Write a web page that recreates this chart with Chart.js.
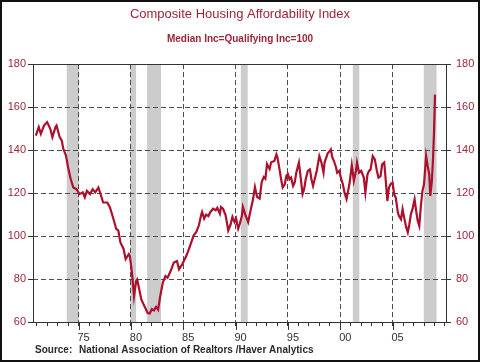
<!DOCTYPE html>
<html>
<head>
<meta charset="utf-8">
<script src="https://cdn.jsdelivr.net/npm/chart.js@4.4.1/dist/chart.umd.min.js"></script>
<style>
  html, body { margin: 0; padding: 0; background: #fff; }
  canvas { display: block; }
</style>
</head>
<body>
<canvas id="chart" width="480" height="362" style="width:480px;height:362px"></canvas>
<script>
// time positions (fractional years) and index values
const years = [
  1970.92, 1971.2, 1971.4, 1971.7, 1972.0, 1972.3, 1972.5, 1972.8, 1972.9, 1973.2,
  1973.4, 1973.55, 1973.8, 1974.0, 1974.25, 1974.5, 1974.8, 1975.1, 1975.4, 1975.6,
  1975.8, 1976.1, 1976.35, 1976.6, 1976.9, 1977.1, 1977.35, 1977.75, 1978.0, 1978.3,
  1978.6, 1978.8, 1979.0, 1979.3, 1979.5, 1979.8, 1979.9, 1980.1, 1980.3, 1980.5,
  1980.6, 1980.8, 1981.0, 1981.3, 1981.6, 1981.8, 1982.0, 1982.2, 1982.4, 1982.6,
  1982.8, 1983.05, 1983.3, 1983.5, 1983.8, 1984.1, 1984.4, 1984.6, 1984.9, 1985.3,
  1985.55, 1985.8, 1986.0, 1986.25, 1986.5, 1986.7, 1986.8, 1987.0, 1987.2, 1987.4,
  1987.6, 1987.85, 1988.1, 1988.25, 1988.5, 1988.6, 1988.8, 1989.05, 1989.3, 1989.5,
  1989.7, 1989.9, 1990.05, 1990.25, 1990.4, 1990.6, 1990.7, 1990.95, 1991.2, 1991.4,
  1991.65, 1991.85, 1992.05, 1992.3, 1992.5, 1992.7, 1992.85, 1993.0, 1993.25, 1993.4,
  1993.7, 1993.9, 1994.0, 1994.2, 1994.35, 1994.5, 1994.7, 1994.85, 1995.0, 1995.15,
  1995.3, 1995.5, 1995.65, 1995.8, 1996.05, 1996.2, 1996.4, 1996.55, 1996.7, 1996.9,
  1997.1, 1997.25, 1997.4, 1997.6, 1997.75, 1998.0, 1998.2, 1998.4, 1998.5, 1998.8,
  1999.0, 1999.1, 1999.25, 1999.4, 1999.6, 1999.7, 1999.9, 2000.1, 2000.25, 2000.4,
  2000.6, 2000.75, 2000.9, 2001.1, 2001.3, 2001.5, 2001.6, 2001.8, 2002.0, 2002.25,
  2002.4, 2002.6, 2002.75, 2002.9, 2003.1, 2003.3, 2003.5, 2003.65, 2003.85, 2004.0,
  2004.2, 2004.35, 2004.5, 2004.65, 2004.8, 2005.0, 2005.15, 2005.3, 2005.5, 2005.6,
  2005.8, 2005.95, 2006.1, 2006.3, 2006.45, 2006.6, 2006.75, 2006.9, 2007.1, 2007.25,
  2007.4, 2007.55, 2007.7, 2007.85, 2008.0, 2008.2, 2008.35, 2008.5, 2008.6, 2008.75,
  2008.85, 2008.95, 2009.05
];
const hai = [
  146.7, 150.7, 147.5, 151.4, 153.0, 149.9, 146.0, 150.7, 151.4, 146.0,
  144.4, 140.5, 137.4, 132.0, 126.5, 122.6, 121.8, 119.5, 120.3, 118.0,
  121.0, 119.5, 121.8, 120.3, 122.6, 119.5, 115.6, 115.6, 113.3, 108.5,
  103.3, 102.5, 97.0, 94.0, 89.3, 91.6, 90.8, 83.0, 72.0, 79.0,
  79.8, 75.1, 70.4, 67.3, 64.2, 64.0, 66.0, 65.4, 67.0, 65.7,
  72.0, 78.3, 81.4, 80.6, 83.7, 87.7, 88.4, 84.5, 86.8, 90.8,
  94.0, 97.5, 100.3, 101.9, 105.0, 109.6, 111.2, 108.1, 110.0, 109.3,
  111.2, 112.7, 112.0, 113.1, 110.4, 113.5, 112.7, 109.6, 102.6, 105.0,
  108.9, 106.5, 108.1, 103.4, 105.7, 109.3, 113.5, 109.6, 106.5, 111.2,
  116.6, 122.8, 118.2, 117.4, 125.2, 127.5, 126.7, 133.5, 131.2, 134.3,
  134.9, 138.0, 136.5, 131.0, 126.4, 122.6, 124.1, 128.0, 128.8, 126.4,
  127.2, 123.3, 124.9, 129.5, 134.2, 128.0, 119.5, 121.8, 126.4, 130.3,
  131.0, 126.4, 123.3, 127.2, 130.3, 137.2, 134.2, 129.5, 134.2, 138.5,
  139.5, 140.3, 136.5, 134.9, 131.9, 129.5, 130.3, 126.4, 124.1, 120.3,
  117.2, 121.0, 124.9, 133.0, 125.6, 130.3, 134.2, 129.5, 130.3, 127.2,
  120.2, 128.7, 130.3, 131.0, 137.2, 135.7, 130.3, 127.2, 127.9, 133.4,
  134.2, 125.6, 116.3, 122.5, 124.1, 124.9, 119.4, 117.9, 110.9, 109.4,
  107.8, 112.5, 108.6, 104.0, 101.7, 105.5, 110.2, 112.5, 117.1, 111.7,
  107.0, 104.7, 114.0, 121.0, 124.1, 137.2, 132.6, 128.7, 118.7, 125.6,
  134.9, 147.3, 165.8
];

// recession bands
const recessionStart = [1973.87, 1979.95, 1981.55, 1990.5, 2001.2, 2007.98];
const recessionEnd   = [1975.05, 1980.5, 1982.88, 1991.16, 2001.82, 2009.2];

const yTicks = [60, 80, 100, 120, 140, 160, 180];
const labelYears = [1975, 1980, 1985, 1990, 1995, 2000, 2005];
const yearTicks = [];
for (let y = 1971; y <= 2010; y++) yearTicks.push(y);

const maroon = '#9c2437';
const fontFamily = '"Liberation Sans", Arial, sans-serif';
const gridColor = '#4a4a4a';

const decorations = {
  id: 'decorations',
  beforeDraw(chart) {
    const { ctx, chartArea, scales } = chart;
    ctx.save();
    ctx.fillStyle = '#fff';
    ctx.fillRect(0, 0, chart.width, chart.height);
    ctx.fillStyle = '#cccccc';
    recessionStart.forEach((s, i) => {
      const x1 = scales.x.getPixelForValue(s);
      const x2 = scales.x.getPixelForValue(recessionEnd[i]);
      ctx.fillRect(x1, chartArea.top, x2 - x1, chartArea.bottom - chartArea.top);
    });
    ctx.restore();
  },
  beforeDatasetsDraw(chart) {
    const { ctx, chartArea, scales } = chart;
    ctx.save();
    ctx.strokeStyle = '#333';
    ctx.lineWidth = 1;
    ctx.strokeRect(Math.round(chartArea.left) + 0.5, Math.round(chartArea.top) + 0.5,
      Math.round(chartArea.right - chartArea.left), Math.round(chartArea.bottom - chartArea.top));
    // longer marks at the labelled years
    ctx.beginPath();
    labelYears.forEach(y => {
      const x = Math.round(scales.x.getPixelForValue(y)) + 0.5;
      ctx.moveTo(x, chartArea.bottom);
      ctx.lineTo(x, chartArea.bottom + 8);
    });
    ctx.stroke();
    ctx.restore();
  },
  afterDraw(chart) {
    const { ctx } = chart;
    ctx.save();
    ctx.fillStyle = '#2a2a2a';
    ctx.font = 'bold 10px ' + fontFamily;
    ctx.textBaseline = 'middle';
    ctx.fillText('Source:', 35, 350);
    ctx.fillText('National Association of Realtors /Haver Analytics', 79, 350);
    ctx.strokeStyle = '#111';
    ctx.lineWidth = 2;
    ctx.strokeRect(1, 1, chart.width - 2, chart.height - 2);
    ctx.restore();
  }
};

new Chart(document.getElementById('chart').getContext('2d'), {
  type: 'line',
  data: {
    datasets: [{
      data: years.map((x, i) => ({ x: x, y: hai[i] })),
      borderColor: '#ad0f2c',
      borderWidth: 2.2,
      pointRadius: 0,
      fill: false,
      tension: 0
    }]
  },
  options: {
    responsive: false,
    animation: false,
    layout: { padding: 0 },
    plugins: {
      legend: { display: false },
      tooltip: { enabled: false },
      title: {
        display: true,
        text: 'Composite Housing Affordability Index',
        color: maroon,
        font: { family: fontFamily, size: 13, weight: 'normal' },
        padding: { top: 7, bottom: 4 }
      },
      subtitle: {
        display: true,
        text: 'Median Inc=Qualifying Inc=100',
        color: maroon,
        font: { family: fontFamily, size: 10, weight: 'bold' },
        padding: { top: 7, bottom: 18.5 }
      }
    },
    scales: {
      x: {
        type: 'linear',
        min: 1970.65,
        max: 2010.1,
        afterBuildTicks: s => { s.ticks = yearTicks.map(v => ({ value: v })); },
        afterFit: s => { s.height = 40; },
        grid: {
          color: c => (c.tick && labelYears.includes(c.tick.value)) ? gridColor : 'rgba(0,0,0,0)',
          tickColor: '#333',
          tickLength: 4
        },
        border: { display: false, dash: [5, 3] },
        ticks: {
          autoSkip: false,
          maxRotation: 0,
          labelOffset: 5,
          padding: 5,
          color: '#333',
          font: { family: fontFamily, size: 11 },
          callback: v => labelYears.includes(v) ? String(v).slice(2) : ''
        }
      },
      y: {
        position: 'left',
        min: 60,
        max: 180,
        afterBuildTicks: s => { s.ticks = yTicks.map(v => ({ value: v })); },
        afterFit: s => { s.width = 33; },
        grid: { color: gridColor, tickColor: '#333', tickLength: 5 },
        border: { display: false, dash: [5, 3] },
        ticks: { color: maroon, padding: 2, font: { family: fontFamily, size: 11 } }
      },
      y2: {
        position: 'right',
        min: 60,
        max: 180,
        afterBuildTicks: s => { s.ticks = yTicks.map(v => ({ value: v })); },
        afterFit: s => { s.width = 34; },
        grid: { drawOnChartArea: false, tickColor: '#333', tickLength: 5 },
        border: { display: false },
        ticks: { color: maroon, padding: 5, font: { family: fontFamily, size: 11 } }
      }
    }
  },
  plugins: [decorations]
});
</script>
</body>
</html>
